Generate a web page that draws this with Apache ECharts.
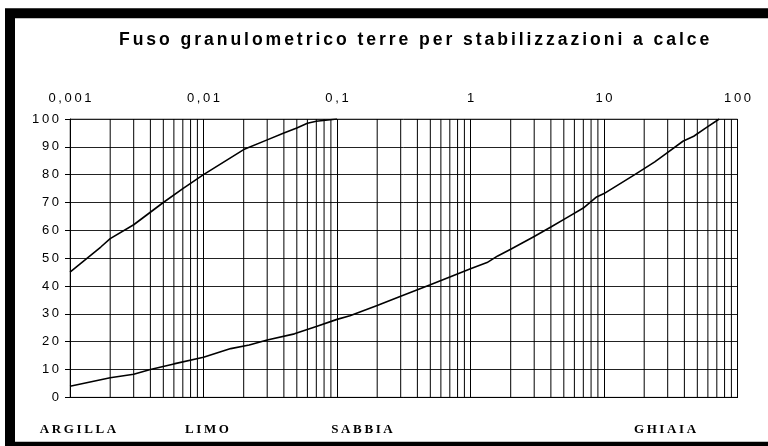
<!DOCTYPE html>
<html>
<head>
<meta charset="utf-8">
<script src="https://cdn.jsdelivr.net/npm/echarts@6/dist/echarts.min.js"></script>
<style>
  html, body { margin: 0; padding: 0; background: #fff; }
  #chart { width: 768px; height: 446px; }
</style>
</head>
<body>
<div id="chart"></div>
<script>
// fuso granulometrico: diametro (mm) / passante (%)
var upperSize = [0.001, 0.0017, 0.002, 0.003, 0.005, 0.007, 0.01, 0.02, 0.03, 0.04, 0.05, 0.06, 0.07, 0.1];
var upperPass = [45, 54, 57, 62, 70, 75, 80, 89, 92.5, 95, 96.8, 98.5, 99.2, 100];

var lowerSize = [0.001, 0.002, 0.003, 0.004, 0.006, 0.01, 0.016, 0.022, 0.03, 0.048, 0.07, 0.1, 0.125, 0.2, 0.3, 0.5, 0.7, 1, 1.33, 1.6, 2, 3, 4, 5.2, 7, 8.8, 10, 17, 24, 29, 39, 47, 58, 73];
var lowerPass = [4, 7, 8.3, 10, 12, 14.4, 17.5, 18.8, 20.6, 22.8, 25.4, 28, 29.3, 33, 36.3, 40.4, 43.2, 46.2, 48.4, 50.8, 53.2, 57.8, 61.2, 64.4, 68, 72, 73.2, 80, 84.6, 87.5, 92, 93.8, 96.8, 100];

var decades = [0.001, 0.01, 0.1, 1, 10];
var minorSteps = [2, 3, 4, 5, 6, 7, 8, 9];
var soilClasses = ['ARGILLA', 'LIMO', 'SABBIA', 'GHIAIA'];
var titleText = 'Fuso granulometrico terre per stabilizzazioni a calce';

function spaced(s, sep) {
  return s.split('').join(sep);
}
function pairs(xs, ys) {
  return xs.map(function (x, i) { return [x, ys[i]]; });
}

// linee verticali intermedie (2..9 per ogni decade)
var minorGrid = [];
decades.forEach(function (d) {
  minorSteps.forEach(function (k) {
    minorGrid.push([+(k * d).toPrecision(3), 0]);
  });
});

var chart = echarts.init(document.getElementById('chart'));
var sans = '"Liberation Sans", Arial, sans-serif';
var serif = '"Liberation Serif", "Times New Roman", serif';
var labelX = [78, 207, 362, 665];

chart.setOption({
  animation: false,
  title: {
    text: spaced(titleText, '\u2006'),
    left: 114,
    top: 26,
    textStyle: { fontFamily: sans, fontSize: 17.6, fontWeight: 'bold', color: '#000' }
  },
  grid: {
    left: 70, top: 119, width: 667.5, height: 278.3,
    show: true, borderColor: '#808080', borderWidth: 1
  },
  xAxis: {
    type: 'log',
    logBase: 10,
    min: 0.001,
    max: 100,
    position: 'top',
    axisLine: { show: true, lineStyle: { color: '#000', width: 1 } },
    axisTick: { show: true, inside: false, length: 5, lineStyle: { color: '#000' } },
    axisLabel: {
      margin: 14,
      fontFamily: sans, fontSize: 13, color: '#000',
      formatter: function (v) { return spaced(String(+v.toPrecision(3)).replace('.', ','), '\u2009'); }
    },
    splitLine: { show: true, lineStyle: { color: '#000', width: 1 } }
  },
  yAxis: {
    type: 'value',
    min: 0, max: 100, interval: 10,
    axisLine: { show: true, lineStyle: { color: '#000', width: 1 } },
    axisTick: { show: true, length: 5, lineStyle: { color: '#000' } },
    axisLabel: {
      margin: 11,
      fontFamily: sans, fontSize: 13, color: '#000',
      formatter: function (v) { return spaced(String(v), '\u2009'); }
    },
    splitLine: { show: true, lineStyle: { color: '#222', width: 1 } }
  },
  series: [
    {
      type: 'custom',
      silent: true,
      data: minorGrid,
      encode: { x: 0, y: 1 },
      z: 1,
      renderItem: function (params, api) {
        var v = api.value(0);
        var p0 = api.coord([v, 0]);
        var p1 = api.coord([v, 100]);
        return {
          type: 'line',
          shape: { x1: p0[0], y1: p0[1], x2: p1[0], y2: p1[1] },
          style: { stroke: '#000', lineWidth: 1 }
        };
      }
    },
    {
      name: 'limite superiore',
      type: 'line',
      data: pairs(upperSize, upperPass),
      showSymbol: false,
      lineStyle: { color: '#000', width: 1.6 },
      z: 5
    },
    {
      name: 'limite inferiore',
      type: 'line',
      data: pairs(lowerSize, lowerPass),
      showSymbol: false,
      lineStyle: { color: '#000', width: 1.6 },
      z: 5
    }
  ],
  graphic: [
    {
      type: 'rect',
      shape: { x: 10, y: 13.3, width: 800, height: 433.4 },
      style: { fill: 'none', stroke: '#000', lineWidth: 10 },
      silent: true
    }
  ].concat(soilClasses.map(function (name, i) {
    return {
      type: 'text',
      x: labelX[i],
      y: 430,
      silent: true,
      style: {
        text: spaced(name, '\u2009'),
        font: 'bold 13px ' + serif,
        fill: '#000',
        align: 'center',
        verticalAlign: 'middle'
      }
    };
  }))
});
</script>
</body>
</html>
